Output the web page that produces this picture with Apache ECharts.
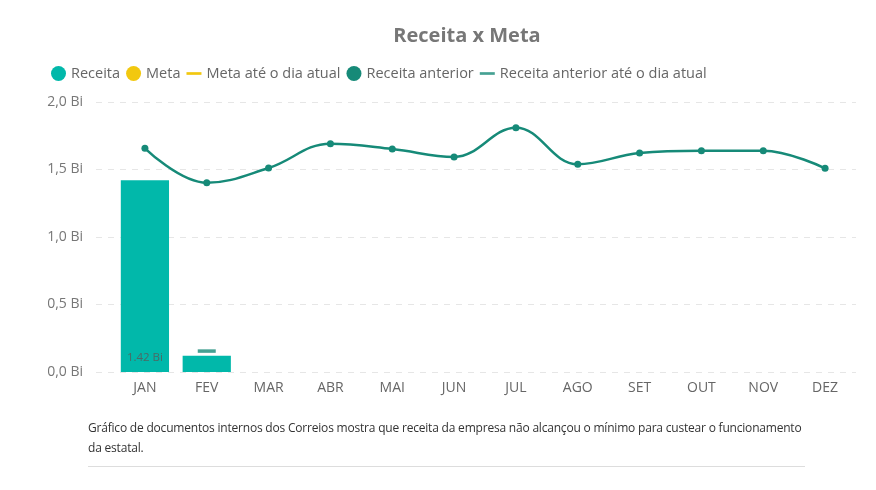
<!DOCTYPE html>
<html>
<head>
<meta charset="utf-8">
<script src="https://cdn.jsdelivr.net/npm/echarts@6/dist/echarts.min.js"></script>
<style>
html,body{margin:0;padding:0;background:#fff;}
#chart{position:absolute;left:0;top:0;width:876px;height:490px;}
#caption{position:absolute;left:88px;top:418px;font-family:"Open Sans",sans-serif;font-size:12px;line-height:20px;color:#333;letter-spacing:-0.2px;white-space:nowrap;}
#rule{position:absolute;left:88px;top:466px;width:717px;height:1px;background:#ddd;}
</style>
</head>
<body>
<div id="chart"></div>
<div id="caption">Gráfico de documentos internos dos Correios mostra que receita da empresa não alcançou o mínimo para custear o funcionamento<br>da estatal.</div>
<div id="rule"></div>
<script>
var months = ['JAN','FEV','MAR','ABR','MAI','JUN','JUL','AGO','SET','OUT','NOV','DEZ'];
var receita = [1.42, 0.12, null, null, null, null, null, null, null, null, null, null];
var receitaAnterior = [1.657, 1.402, 1.511, 1.691, 1.652, 1.593, 1.810, 1.539, 1.622, 1.639, 1.639, 1.509];
var receitaAnteriorAteDia = [null, 0.155, null, null, null, null, null, null, null, null, null, null];
var yTicks = [0, 0.5, 1.0, 1.5, 2.0];

var chart = echarts.init(document.getElementById('chart'));
var fontFam = '"Open Sans", sans-serif';
var lineIcon = 'path://M0,0 L14,0 L14,2.5 L0,2.5 Z';
chart.setOption({
  backgroundColor: '#fff',
  animation: false,
  title: {
    text: 'Receita x Meta',
    left: 462,
    textAlign: 'center',
    top: 21,
    textStyle: {fontFamily: fontFam, fontSize: 20, fontWeight: 'bold', color: '#777'}
  },
  legend: {
    left: 46,
    top: 61,
    itemWidth: 15,
    itemHeight: 15,
    itemGap: 6,
    textStyle: {fontFamily: fontFam, fontSize: 14.5, color: '#666'},
    data: [
      {name: 'Receita', icon: 'circle', itemStyle: {color: '#01B8AA'}},
      {name: 'Meta', icon: 'circle', itemStyle: {color: '#F2C80F'}},
      {name: 'Meta até o dia atual', icon: lineIcon, itemStyle: {color: '#F2C80F'}},
      {name: 'Receita anterior', icon: 'circle', itemStyle: {color: '#168A78'}},
      {name: 'Receita anterior até o dia atual', icon: lineIcon, itemStyle: {color: '#168A78'}}
    ]
  },
  grid: [
    {left: 96, right: 20, top: 102, bottom: 118},
    {left: 114, right: 20, top: 102, bottom: 118}
  ],
  xAxis: [
    {type: 'category', gridIndex: 0, data: months, show: false},
    {type: 'category', gridIndex: 1, data: months,
     axisLine: {show: false}, axisTick: {show: false},
     axisLabel: {margin: 9, fontFamily: fontFam, fontSize: 14, color: '#666'}}
  ],
  yAxis: [
    {type: 'value', gridIndex: 0, min: 0, max: 2, interval: 0.5,
     axisLine: {show: false}, axisTick: {show: false},
     axisLabel: {margin: 13, fontFamily: fontFam, fontSize: 14, color: '#777',
       formatter: function (v) { return v.toFixed(1).replace('.', ',') + ' Bi'; }},
     splitLine: {lineStyle: {color: '#e6e6e6', type: [6, 6], width: 1}}},
    {type: 'value', gridIndex: 1, min: 0, max: 2, interval: 0.5, show: false,
     splitLine: {show: false}}
  ],
  series: [
    {name: 'Receita', type: 'bar', xAxisIndex: 1, yAxisIndex: 1, data: receita,
     barWidth: '78%', itemStyle: {color: '#01B8AA'},
     label: {show: true, position: 'insideBottom', distance: 8, fontFamily: fontFam, fontSize: 11.5, color: '#4a6a66',
       formatter: function (p) { return p.dataIndex === 0 ? p.value.toFixed(2) + ' Bi' : ''; }}},
    {name: 'Meta', type: 'line', xAxisIndex: 1, yAxisIndex: 1, data: [], itemStyle: {color: '#F2C80F'}},
    {name: 'Meta até o dia atual', type: 'line', xAxisIndex: 1, yAxisIndex: 1, data: [], itemStyle: {color: '#F2C80F'}},
    {name: 'Receita anterior', type: 'line', xAxisIndex: 1, yAxisIndex: 1, data: receitaAnterior,
     smooth: 0.4, symbol: 'circle', symbolSize: 7,
     itemStyle: {color: '#168A78'}, lineStyle: {color: '#168A78', width: 2.5}},
    {name: 'Receita anterior até o dia atual', type: 'scatter', xAxisIndex: 1, yAxisIndex: 1, data: receitaAnteriorAteDia,
     symbol: 'rect', symbolSize: [18, 3.5], itemStyle: {color: '#168A78'}}
  ]
});
</script>
</body>
</html>
